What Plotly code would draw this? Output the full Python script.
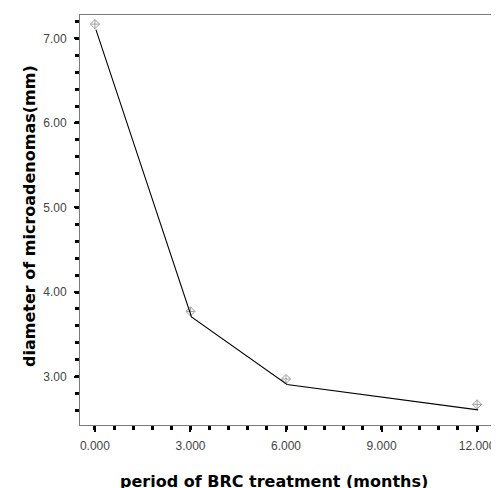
import plotly.graph_objects as go

# ---- data ----
months = [0, 3, 6, 12]
diameter_mm = [7.17, 3.77, 2.97, 2.67]
x_tick_vals = [0, 3, 6, 9, 12]
x_tick_text = ["0.000", "3.000", "6.000", "9.000", "12.000"]
y_tick_vals = [3, 4, 5, 6, 7]
y_tick_text = ["3.00", "4.00", "5.00", "6.00", "7.00"]
x_title = "period of BRC treatment (months)"
y_title = "diameter of microadenomas(mm)"

# ---- layout constants ----
PAGE_OFF = 8  # browser body margin
W, H = 499 - PAGE_OFF, 488 - PAGE_OFF
ML, MR, MT, MB = 80 - PAGE_OFF, 3, 15 - PAGE_OFF, 63
xr = [-0.469, 12.531]
yr = [2.426, 7.278]
px_per_x = (W - ML - MR) / (xr[1] - xr[0])
px_per_y = (H - MT - MB) / (yr[1] - yr[0])
# the connecting line is rendered slightly right/below the symbols
line_dx_px, line_dy_px = 1.0, 5.5
xr2 = [xr[0] - line_dx_px / px_per_x, xr[1] - line_dx_px / px_per_x]
yr2 = [yr[0] + line_dy_px / px_per_y, yr[1] + line_dy_px / px_per_y]

frame = "#7a7a7a"
tickfont = dict(family="Liberation Sans, Arial, sans-serif", size=12, color="#444444")
titlefont = dict(family="DejaVu Sans, sans-serif", size=16, color="#000000")

fig = go.Figure()
fig.add_trace(go.Scatter(
    x=months, y=diameter_mm, mode="lines",
    line=dict(color="#000000", width=1.1),
    xaxis="x2", yaxis="y2", hoverinfo="skip", showlegend=False,
))
fig.add_trace(go.Scatter(
    x=months, y=diameter_mm, mode="markers",
    marker=dict(symbol="diamond-cross-open", size=7, color="#a0a0a0",
                line=dict(width=1, color="#a0a0a0")),
    showlegend=False, cliponaxis=False,
))

fig.update_layout(
    width=W, height=H,
    margin=dict(l=ML, r=MR, t=MT, b=MB, pad=0),
    plot_bgcolor="white", paper_bgcolor="white",
    showlegend=False,
    xaxis=dict(
        range=xr, tickmode="array", tickvals=x_tick_vals, ticktext=x_tick_text,
        ticks="outside", ticklen=6, tickwidth=1.5, tickcolor="#000000",
        minor=dict(tick0=0, dtick=0.6, ticks="outside", ticklen=4,
                   tickwidth=3, tickcolor="#000000", showgrid=False),
        showline=True, linecolor=frame, linewidth=1, mirror=True,
        showgrid=False, zeroline=False, tickfont=tickfont,
        ticklabelstandoff=4,
    ),
    yaxis=dict(
        range=yr, tickmode="array", tickvals=y_tick_vals, ticktext=y_tick_text,
        ticks="outside", ticklen=5, tickwidth=1.5, tickcolor="#000000",
        minor=dict(tick0=0, dtick=0.2, ticks="outside", ticklen=4,
                   tickwidth=3, tickcolor="#000000", showgrid=False),
        showline=True, linecolor=frame, linewidth=1, mirror=True,
        showgrid=False, zeroline=False, tickfont=tickfont,
        ticklabelstandoff=5,
    ),
    xaxis2=dict(range=xr2, overlaying="x", visible=False),
    yaxis2=dict(range=yr2, overlaying="y", visible=False),
    annotations=[
        dict(text="<b>%s</b>" % x_title, xref="paper", yref="paper",
             x=0.5, y=0, xanchor="center", yanchor="middle",
             xshift=-13, yshift=-56, showarrow=False, font=titlefont),
        dict(text="<b>%s</b>" % y_title, xref="paper", yref="paper",
             x=0, y=0.5, xanchor="center", yanchor="middle", textangle=-90,
             xshift=-51, yshift=4, showarrow=False, font=titlefont),
    ],
)

fig.write_html("out.html")
